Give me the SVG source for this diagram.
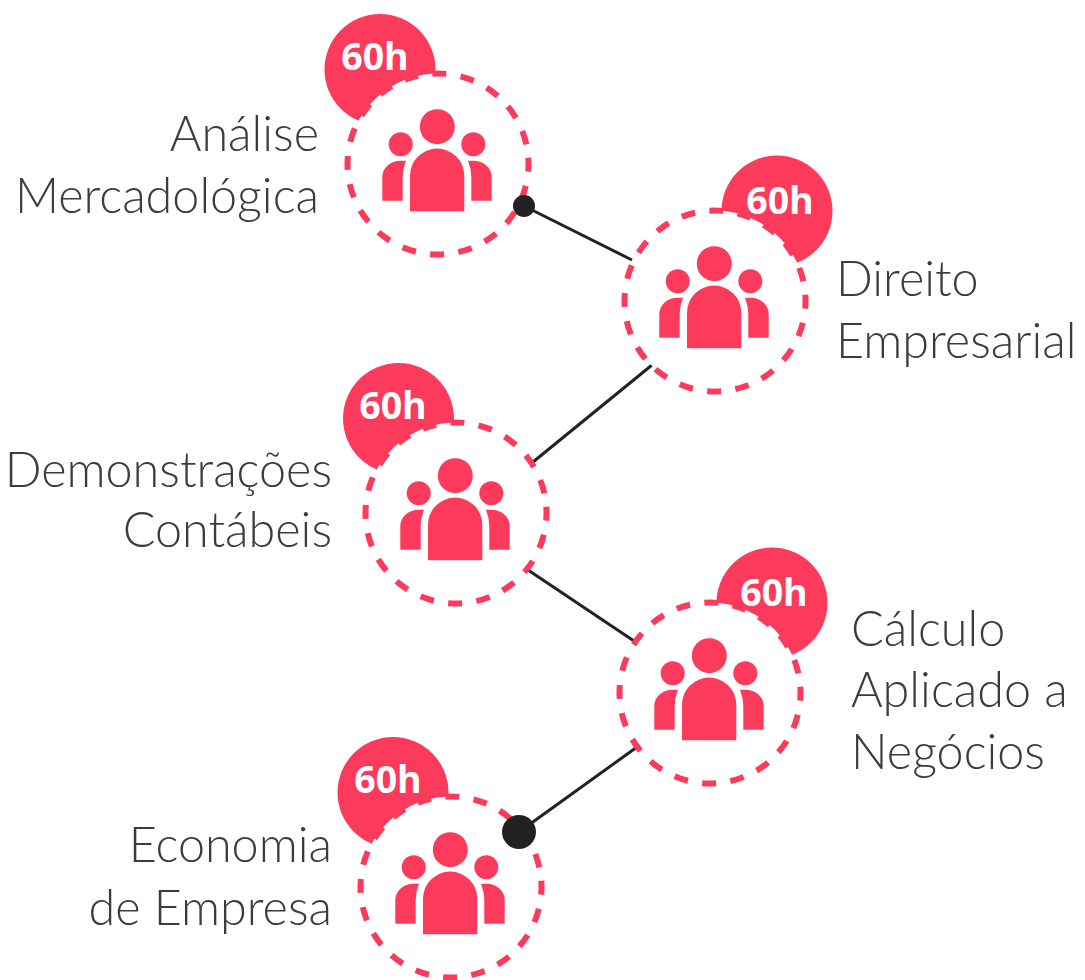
<svg xmlns="http://www.w3.org/2000/svg" width="1085" height="980" viewBox="0 0 1085 980">
<style>
.badge{fill:#fb3a5c}
.ring{fill:#fff;stroke:#fb3a5c;stroke-width:6;stroke-dasharray:14 14.43}
.icon{fill:#fb3a5c}
.hours{font-family:"Open Sans","Noto Sans",sans-serif;font-weight:700;font-size:37.500px;fill:#fff;text-anchor:middle}
.label{font-family:Lato,"Liberation Sans",sans-serif;font-weight:300;font-size:48.500px;fill:#3c3c3c}
.end{text-anchor:end}
.conn{stroke:#222;stroke-width:3;fill:none}
.dot{fill:#222}
</style>
<defs>
<g id="people">
<circle cx="-0.7" cy="-37.3" r="17.5"/>
<circle cx="-37.3" cy="-19.7" r="12"/>
<circle cx="35.3" cy="-19.7" r="12"/>
<path d="M-28 47.300V11.700a27 27 0 0 1 54.300 0V47.300Z"/>
<path d="M-55.700 36.700V13a18 16.300 0 0 1 18-16.300H-32Q-35.300 5-35.300 13V36.700Z"/>
<path d="M53.700 36.700V13a18 16.300 0 0 0-18-16.300H30Q33.300 5 33.300 13V36.700Z"/>
</g>
</defs>
<g id="connectors">
<path class="conn" d="M524 206L632 260"/>
<path class="conn" d="M652 365L533 462"/>
<path class="conn" d="M528 570L634 641"/>
<path class="conn" d="M637 747L519 832"/>
</g>
<g id="node-analise">
<circle class="badge" cx="380" cy="69.500" r="55.500"/>
<text class="hours" x="375" y="70">60h</text>
<circle class="ring" cx="438" cy="164" r="90.500" transform="rotate(-4 438 164)"/>
<use href="#people" class="icon" x="438" y="164"/>
<text class="label end" x="319" y="151">Análise</text>
<text class="label end" x="319" y="213">Mercadológica</text>
</g>
<circle id="dot-start" class="dot" cx="524" cy="206" r="11"/>
<g id="node-direito">
<circle class="badge" cx="777" cy="211" r="55.500"/>
<text class="hours" x="780" y="214">60h</text>
<circle class="ring" cx="715" cy="301" r="90.500" transform="rotate(-4 715 301)"/>
<use href="#people" class="icon" x="715" y="301"/>
<text class="label" x="836" y="296">Direito</text>
<text class="label" x="836" y="358">Empresarial</text>
</g>
<g id="node-demonstracoes">
<circle class="badge" cx="398.500" cy="418.500" r="55.500"/>
<text class="hours" x="393" y="419">60h</text>
<circle class="ring" cx="456" cy="513" r="90.500" transform="rotate(-4 456 513)"/>
<use href="#people" class="icon" x="456" y="513"/>
<text class="label end" x="332" y="487">Demonstrações</text>
<text class="label end" x="332" y="547">Contábeis</text>
</g>
<g id="node-calculo">
<circle class="badge" cx="772" cy="603" r="55.500"/>
<text class="hours" x="774" y="606">60h</text>
<circle class="ring" cx="710" cy="693" r="90.500" transform="rotate(-4 710 693)"/>
<use href="#people" class="icon" x="710" y="693"/>
<text class="label" x="851" y="646">Cálculo</text>
<text class="label" x="851" y="707">Aplicado a</text>
<text class="label" x="851" y="769">Negócios</text>
</g>
<g id="node-economia">
<circle class="badge" cx="393" cy="792.500" r="55.500"/>
<text class="hours" x="388" y="793">60h</text>
<circle class="ring" cx="451" cy="887" r="90.500" transform="rotate(-4 451 887)"/>
<use href="#people" class="icon" x="451" y="887"/>
<text class="label end" x="332" y="862">Economia</text>
<text class="label end" x="332" y="925">de Empresa</text>
</g>
<circle id="dot-end" class="dot" cx="519" cy="832" r="17"/>
</svg>
